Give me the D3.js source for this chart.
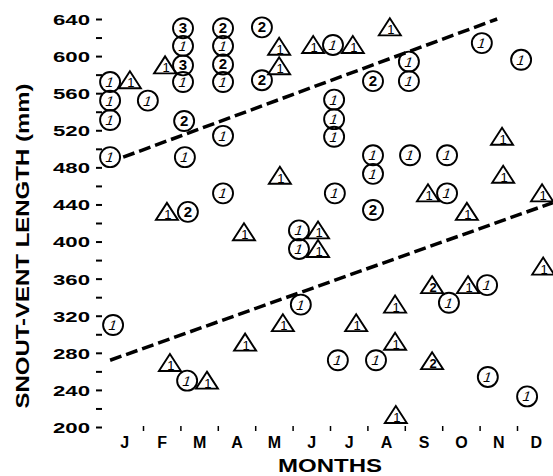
<!DOCTYPE html>
<html>
<head>
<meta charset="utf-8">
<script src="https://cdn.jsdelivr.net/npm/d3@7"></script>
<style>
  html, body { margin: 0; padding: 0; background: #fff; }
  svg { display: block; }
  text { font-family: "Liberation Sans", "DejaVu Sans", sans-serif; fill: #000; }
</style>
</head>
<body>
<svg id="chart" width="553" height="476"></svg>
<script>
// ---- data ----
const months = ["J","F","M","A","M","J","J","A","S","O","N","D"];
const yTickValues = [200,220,240,260,280,300,320,340,360,380,400,420,440,460,480,500,520,540,560,580,600,620,640];
const yTickLabels = ["200","","240","","280","","320","","360","","400","","440","","480","","520","","560","","600","","640"];

// circles (month position, snout-vent length mm, number inside)
const circleMonth  = [2.07,3.14,4.18,2.07,3.14,2.07,3.14,2.07,3.14,4.18,0.12,0.12,1.13,0.12,2.10,3.14,0.12,2.12,6.08,10.06,11.11,8.11,8.11,7.15,6.11,6.11,6.11,7.15,8.14,9.13,7.15,6.13,9.13,7.15,5.17,5.17,5.22,9.18,10.20,6.21,7.23,10.22,11.27,0.20,2.18,2.20,3.14];
const circleLength = [630,630,631,611,611,590,591,572,572,574,572,552,552,531,530,514,491,491,612,614,596,594,573,573,553,532,513,493,493,493,473,452,452,434,412,392,332,334,353,272,272,254,233,310,250,432,452];
const circleCount  = ["3","2","2","1","1","3","2","1","1","2","1","1","1","1","2","1","1","1","1","1","1","1","1","2","1","1","1","1","1","1","1","1","1","2","1","1","1","1","1","1","1","1","1","1","1","2","1"];

// triangles (month position, snout-vent length mm, number inside)
const triMonth  = [4.64,4.64,1.59,0.65,7.60,5.55,6.61,10.60,4.66,10.63,8.62,11.67,9.66,5.68,5.68,11.70,8.73,9.69,7.74,4.74,6.70,7.74,8.73,7.76,1.64,3.70,1.72,2.71,3.73];
const triLength = [610,589,590,574,631,612,612,513,471,472,452,452,432,412,392,373,353,353,332,312,312,292,271,213,432,410,269,250,291];
const triCount  = ["1","1","1","1","1","1","1","1","1","1","1","1","1","1","1","1","2","1","1","1","1","1","2","1","1","1","1","1","1"];

// dashed boundary lines (month, mm)
const upperLineMonth  = [0.47, 10.47];
const upperLineLength = [491, 640];
const lowerLineMonth  = [0.12, 11.96];
const lowerLineLength = [272, 442];

// ---- drawing ----
const svg = d3.select("#chart");
const x = d3.scaleLinear().domain([0, 12]).range([105.6, 554.4]);
const y = d3.scaleLinear().domain([200, 640]).range([427, 19]);

// y axis
const yAxis = d3.axisLeft(y)
  .tickValues(yTickValues)
  .tickFormat((d, i) => yTickLabels[i])
  .tickSize(6)
  .tickPadding(6);
const gy = svg.append("g").attr("transform", "translate(102,0)").call(yAxis);
gy.select(".domain").remove();
gy.selectAll(".tick line").attr("stroke", "#000").attr("stroke-width", 2);
gy.selectAll(".tick text")
  .attr("fill", "#000")
  .style("font-size", "15px")
  .style("font-weight", "bold")
  .attr("dy", "0.36em")
  .each(function(d, i) {
    if (yTickLabels[i]) d3.select(this).attr("textLength", 37).attr("lengthAdjust", "spacingAndGlyphs");
  });

// x axis: boundary ticks
const xTicks = d3.axisBottom(x).tickValues(d3.range(1, 12)).tickFormat("").tickSize(5);
const gx = svg.append("g").attr("transform", "translate(0,426)").call(xTicks);
gx.select(".domain").remove();
gx.selectAll(".tick line").attr("stroke", "#000").attr("stroke-width", 1.5);

// x axis: month labels
const xLabels = d3.axisBottom(x).tickValues(d3.range(12).map(i => i + 0.5))
  .tickFormat((d, i) => months[i]).tickSize(0).tickPadding(0);
const gl = svg.append("g").attr("transform", "translate(0,436)").call(xLabels);
gl.select(".domain").remove();
gl.selectAll(".tick text")
  .attr("fill", "#000")
  .attr("dy", "0.75em")
  .style("font-size", "16px")
  .style("font-weight", "bold");

// axis titles
svg.append("text")
  .attr("transform", "translate(29,246) rotate(-90)")
  .attr("text-anchor", "middle")
  .attr("textLength", 325).attr("lengthAdjust", "spacingAndGlyphs")
  .style("font-size", "19px").style("font-weight", "bold")
  .text("SNOUT-VENT LENGTH (mm)");
svg.append("text")
  .attr("x", 330).attr("y", 472)
  .attr("text-anchor", "middle")
  .attr("textLength", 104).attr("lengthAdjust", "spacingAndGlyphs")
  .style("font-size", "18px").style("font-weight", "bold")
  .text("MONTHS");

// dashed lines
const line = d3.line().x(d => x(d[0])).y(d => y(d[1]));
svg.append("path")
  .attr("d", line(upperLineMonth.map((m, i) => [m, upperLineLength[i]])))
  .attr("stroke", "#000").attr("stroke-width", 3.5).attr("stroke-dasharray", "12,5").attr("fill", "none");
svg.append("path")
  .attr("d", line(lowerLineMonth.map((m, i) => [m, lowerLineLength[i]])))
  .attr("stroke", "#000").attr("stroke-width", 3.5).attr("stroke-dasharray", "12,5").attr("fill", "none");

// circles
const circles = circleMonth.map((m, i) => ({m, v: circleLength[i], n: circleCount[i]}));
const cg = svg.append("g").selectAll("g").data(circles).join("g")
  .attr("transform", d => `translate(${x(d.m)},${y(d.v)})`);
cg.append("circle").attr("r", 10).attr("fill", "none").attr("stroke", "#000").attr("stroke-width", 1.9);
cg.append("text")
  .attr("text-anchor", "middle")
  .attr("y", 5)
  .attr("fill", "#000")
  .attr("transform", d => d.n === "1" ? "skewX(-18)" : null)
  .style("font-size", d => d.n === "1" ? "14px" : "15px")
  .style("font-weight", d => d.n === "1" ? "normal" : "bold")
  .text(d => d.n);

// triangles
const tris = triMonth.map((m, i) => ({m, v: triLength[i], n: triCount[i]}));
const tg = svg.append("g").selectAll("g").data(tris).join("g")
  .attr("transform", d => `translate(${x(d.m)},${y(d.v)})`);
tg.append("path")
  .attr("d", "M0,-9 L11,8 L-11,8 Z")
  .attr("fill", "none").attr("stroke", "#000").attr("stroke-width", 1.9).attr("stroke-linejoin", "miter");
tg.append("text")
  .attr("text-anchor", "middle")
  .attr("x", 1).attr("y", 7)
  .attr("fill", "#000")
  .style("font-size", "13px")
  .style("font-weight", d => d.n === "1" ? "normal" : "bold")
  .text(d => d.n);
</script>
</body>
</html>
